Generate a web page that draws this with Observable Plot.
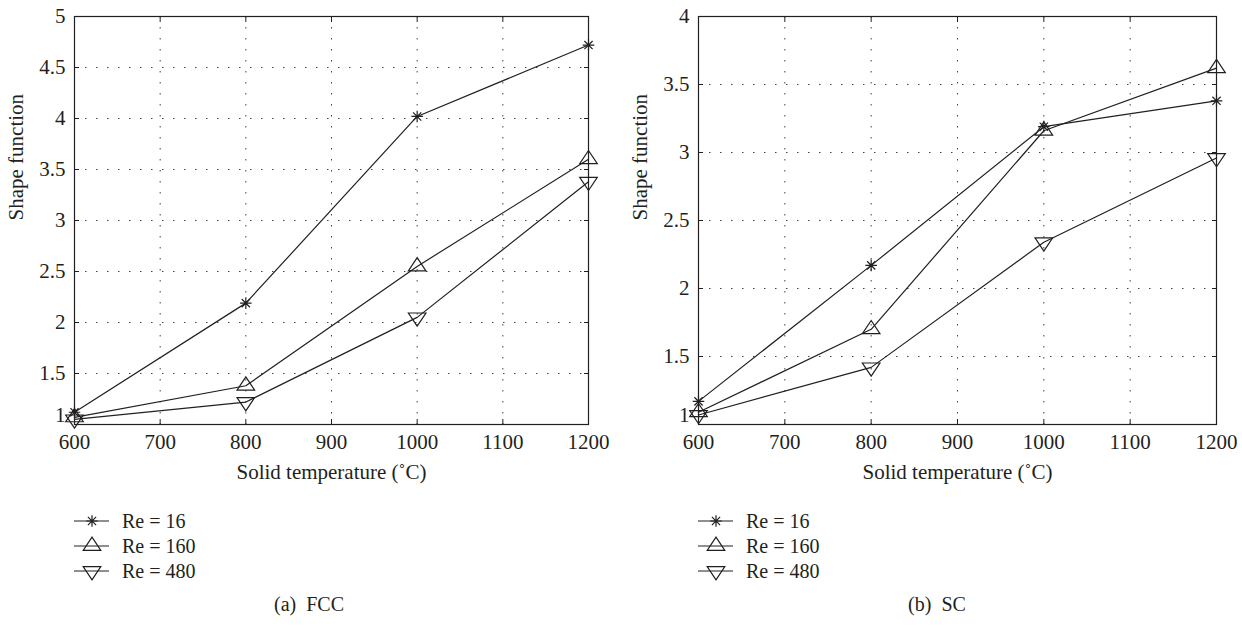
<!DOCTYPE html>
<html><head><meta charset="utf-8">
<script src="https://cdn.jsdelivr.net/npm/d3@7"></script>
<script src="https://cdn.jsdelivr.net/npm/@observablehq/plot@0.6"></script>
<style>
body{margin:0;background:#fff;font-family:"Liberation Serif","DejaVu Serif","Times New Roman",serif;color:#231f20;}
svg, svg text{font-family:"Liberation Serif","DejaVu Serif","Times New Roman",serif !important;}
#wrap{position:relative;width:1242px;height:626px;overflow:hidden;}
.panel{position:absolute;top:0;}
.legend{position:absolute;top:0;font-size:20px;}
.row{position:absolute;left:0;height:24px;white-space:nowrap;display:flex;align-items:center;}
.row svg{display:block;}
.caption{position:absolute;top:592px;height:24px;line-height:24px;font-size:20px;width:300px;text-align:center;white-space:pre;}
</style></head><body><div id="wrap"></div><script>
// ---- data ----
const temps = [600, 800, 1000, 1200];
const series = ["Re = 16", "Re = 160", "Re = 480"];
const fcc16  = [1.12, 2.19, 4.02, 4.72];
const fcc160 = [1.07, 1.38, 2.55, 3.60];
const fcc480 = [1.05, 1.22, 2.05, 3.38];
const sc16   = [1.17, 2.17, 3.19, 3.38];
const sc160  = [1.09, 1.70, 3.16, 3.62];
const sc480  = [1.07, 1.42, 2.34, 2.96];
const xTicks = [600, 700, 800, 900, 1000, 1100, 1200];
const yTicksFCC = [1, 1.5, 2, 2.5, 3, 3.5, 4, 4.5, 5];
const yTicksSC = [1, 1.5, 2, 2.5, 3, 3.5, 4];
const xLabel = "Solid temperature (˚C)";
const yLabel = "Shape function";
const captions = ["(a)  FCC", "(b)  SC"];

// ---- marker symbols (MATLAB-like) ----
const asterisk8 = {draw(ctx, size) {
  const r = Math.sqrt(size / Math.PI), d = r * Math.SQRT1_2;
  ctx.moveTo(-r, 0); ctx.lineTo(r, 0);
  ctx.moveTo(0, -r); ctx.lineTo(0, r);
  ctx.moveTo(-d, -d); ctx.lineTo(d, d);
  ctx.moveTo(-d, d); ctx.lineTo(d, -d);
}};
const triUp = {draw(ctx, size) {
  const r = Math.sqrt(size / Math.PI);
  ctx.moveTo(0, -r); ctx.lineTo(r, r / 2); ctx.lineTo(-r, r / 2); ctx.closePath();
}};
const triDown = {draw(ctx, size) {
  const r = Math.sqrt(size / Math.PI);
  ctx.moveTo(0, r); ctx.lineTo(r, -r / 2); ctx.lineTo(-r, -r / 2); ctx.closePath();
}};
const symbols = [asterisk8, triUp, triDown];
const radii = [5.8, 8.8, 8.8];
const ink = "#231f20";
const serif = "'Liberation Serif', 'DejaVu Serif', serif";

function panel(vals, yDomain, yTicks, ml, mr) {
  const rows = [];
  series.forEach((s, i) => temps.forEach((t, j) => rows.push({t, v: vals[i][j], s})));
  const fmt = d => String(d);
  const yMain = yTicks.slice(1);
  const yFirst = yTicks.slice(0, 1);
  const marks = [
    Plot.gridX(xTicks, {stroke: "#444", strokeOpacity: 1, strokeWidth: 1, strokeDasharray: "1.5,9.5"}),
    Plot.gridY(yTicks, {stroke: "#444", strokeOpacity: 1, strokeWidth: 1, strokeDasharray: "1.5,9.5"}),
    Plot.axisX(xTicks, {anchor: "bottom", tickSize: -5, tickPadding: 15, tickFormat: fmt, label: null, stroke: ink, fill: ink, fontSize: 21}),
    Plot.axisX(xTicks, {anchor: "top", tickSize: -5, tickFormat: () => "", label: null, stroke: ink}),
    Plot.axisY(yMain, {anchor: "left", tickSize: -5, tickPadding: 14, tickFormat: fmt, label: null, stroke: ink, fill: ink, fontSize: 21}),
    Plot.axisY(yFirst, {anchor: "left", tickSize: 0, tickPadding: 9, tickFormat: fmt, label: null, fill: ink, fontSize: 21, dy: -9}),
    Plot.axisY(yTicks, {anchor: "right", tickSize: -5, tickFormat: () => "", label: null, stroke: ink}),
    Plot.frame({stroke: ink, strokeWidth: 1.2}),
    Plot.line(rows, {x: "t", y: "v", z: "s", stroke: ink, strokeWidth: 1.2}),
    ...series.map((s, i) => Plot.dot(rows.filter(d => d.s === s), {
      x: "t", y: "v", symbol: symbols[i], r: radii[i], fill: "none", stroke: ink, strokeWidth: 1.2
    })),
    Plot.text([xLabel], {frameAnchor: "bottom", dy: 48, lineAnchor: "middle", fontSize: 21, fill: ink}),
    Plot.text([yLabel], {frameAnchor: "left", dx: -58, rotate: -90, lineAnchor: "middle", fontSize: 21, fill: ink})
  ];
  return Plot.plot({
    width: 621, height: 490,
    marginLeft: ml, marginRight: mr, marginTop: 16, marginBottom: 66,
    style: {fontFamily: serif, fontSize: "21px", color: ink, background: "white", overflow: "visible"},
    x: {domain: [600, 1200]},
    y: {domain: yDomain},
    marks
  });
}

function legend(left) {
  const div = document.createElement("div");
  div.className = "legend";
  div.style.left = left + "px";
  const centers = [521, 546, 571];
  series.forEach((s, i) => {
    const row = document.createElement("div");
    row.className = "row";
    row.style.top = (centers[i] - 12) + "px";
    const sym = d3.symbol(symbols[i], Math.PI * radii[i] * radii[i])();
    row.innerHTML = `<svg width="48" height="24"><line x1="0" x2="35" y1="12" y2="12" stroke="${ink}" stroke-width="1.2"/>` +
      `<path d="${sym}" transform="translate(18,12)" fill="none" stroke="${ink}" stroke-width="1.2"/></svg><span>${s}</span>`;
    div.appendChild(row);
  });
  return div;
}

const wrap = document.getElementById("wrap");
const p1 = panel([fcc16, fcc160, fcc480], [1, 5], yTicksFCC, 74, 33);
p1.classList.add("panel"); p1.style.left = "0px";
const p2 = panel([sc16, sc160, sc480], [1, 4], yTicksSC, 77, 26);
p2.classList.add("panel"); p2.style.left = "621px";
wrap.appendChild(p1); wrap.appendChild(p2);
wrap.appendChild(legend(74));
wrap.appendChild(legend(698));
const capCenters = [309, 937];
captions.forEach((c, i) => {
  const d = document.createElement("div");
  d.className = "caption";
  d.style.left = (capCenters[i] - 150) + "px";
  d.textContent = c;
  wrap.appendChild(d);
});
</script></body></html>
